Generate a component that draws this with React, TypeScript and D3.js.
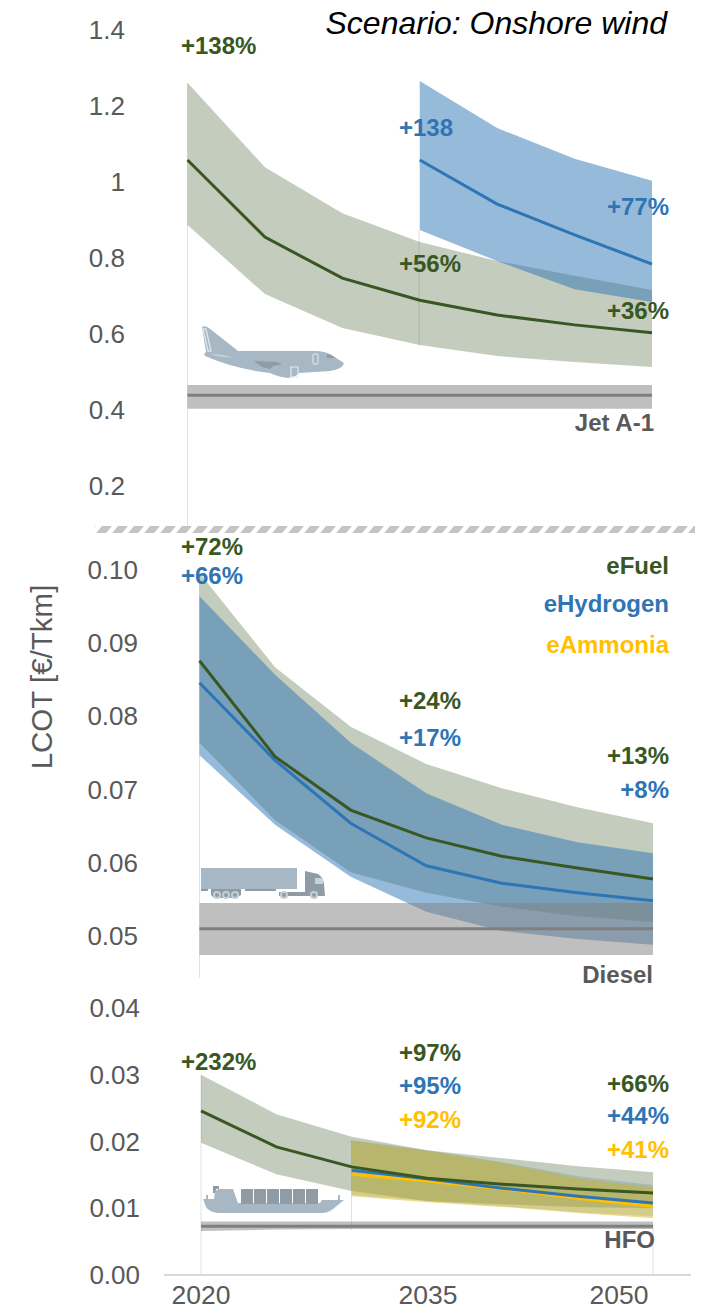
import React from 'react';
import * as d3 from 'd3';

const years = [2020, 2025, 2030, 2035, 2040, 2045, 2050];
const yearLabels = ['2020', '2035', '2050'];

// upper panel (jet)
const jetTicks = ['1.4', '1.2', '1', '0.8', '0.6', '0.4', '0.2'];
const jetFuelHigh = [1.261, 1.039, 0.918, 0.842, 0.792, 0.753, 0.716];
const jetFuelMid = [1.058, 0.855, 0.747, 0.689, 0.65, 0.624, 0.603];
const jetFuelLow = [0.887, 0.705, 0.616, 0.571, 0.542, 0.526, 0.513];
const jetH2High = [1.266, 1.142, 1.061, 1.003];
const jetH2Mid = [1.058, 0.942, 0.861, 0.784];
const jetH2Low = [0.874, 0.792, 0.718, 0.684];
const jetRefHigh = [0.466, 0.466, 0.466, 0.466, 0.466, 0.466, 0.466];
const jetRefMid = [0.439, 0.439, 0.439, 0.439, 0.439, 0.439, 0.439];
const jetRefLow = [0.403, 0.403, 0.403, 0.403, 0.403, 0.403, 0.403];

// middle panel (truck)
const truckTicks = ['0.10', '0.09', '0.08', '0.07', '0.06', '0.05'];
const truckFuelHigh = [0.0996, 0.0867, 0.0786, 0.0735, 0.0702, 0.0676, 0.0654];
const truckFuelMid = [0.0876, 0.0745, 0.0672, 0.0634, 0.0609, 0.0593, 0.0578];
const truckFuelLow = [0.0764, 0.0658, 0.0587, 0.0559, 0.054, 0.0527, 0.0519];
const truckH2High = [0.0964, 0.0857, 0.0764, 0.0695, 0.0652, 0.0628, 0.0613];
const truckH2Mid = [0.0846, 0.074, 0.0654, 0.0596, 0.0572, 0.0559, 0.0548];
const truckH2Low = [0.0747, 0.0652, 0.0581, 0.0533, 0.0507, 0.0496, 0.0488];
const truckRefHigh = [0.0545, 0.0545, 0.0545, 0.0545, 0.0545, 0.0545, 0.0545];
const truckRefMid = [0.051, 0.051, 0.051, 0.051, 0.051, 0.051, 0.051];
const truckRefLow = [0.0474, 0.0474, 0.0474, 0.0474, 0.0474, 0.0474, 0.0474];

// lower panel (ship)
const shipTicks = ['0.04', '0.03', '0.02', '0.01', '0.00'];
const shipFuelHigh = [0.03, 0.0241, 0.0207, 0.0187, 0.0175, 0.0163, 0.0154];
const shipFuelMid = [0.0246, 0.0192, 0.0162, 0.0145, 0.0136, 0.0129, 0.0123];
const shipFuelLow = [0.0198, 0.0151, 0.0126, 0.0111, 0.0106, 0.0102, 0.01];
const shipH2High = [0.0202, 0.0187, 0.0169, 0.0148, 0.0135];
const shipH2Mid = [0.0157, 0.0144, 0.013, 0.0118, 0.0108];
const shipH2Low = [0.012, 0.0111, 0.0103, 0.0094, 0.0088];
const shipNh3High = [0.0201, 0.0186, 0.0168, 0.0145, 0.0132];
const shipNh3Mid = [0.0151, 0.0141, 0.0129, 0.0115, 0.0103];
const shipNh3Low = [0.0118, 0.0109, 0.0102, 0.0093, 0.0085];
const shipRefHigh = [0.008, 0.008, 0.008, 0.008, 0.008, 0.008, 0.008];
const shipRefMid = [0.0073, 0.0073, 0.0073, 0.0073, 0.0073, 0.0073, 0.0073];
const shipRefLow = [0.0066, 0.0068, 0.0069, 0.0069, 0.0069, 0.0069, 0.0069];

const GREEN = '#385723';
const BLUE = '#2e75b6';
const YELLOW = '#ffc000';
const GREY = '#7f7f7f';
const TEXT = '#595959';
const ICON = '#a7b8c4';
const ICON_DARK = '#8f9ba5';
const FONT = '"Liberation Sans", Arial, sans-serif';

const jetY = d3.scaleLinear().domain([0.2, 1.4]).range([486, 30]);
const truckY = d3.scaleLinear().domain([0.05, 0.1]).range([936, 570]);
const shipY = d3.scaleLinear().domain([0, 0.04]).range([1275, 1008]);
const jetX = d3.scalePoint<number>().domain(years).range([187.5, 652]);
const truckX = d3.scalePoint<number>().domain(years).range([199.5, 653]);
const shipX = d3.scalePoint<number>().domain(years).range([201, 653]);

type Sc = (v: any) => any;

const bandPath = (x: Sc, y: Sc, yrs: number[], hi: number[], lo: number[]) =>
  d3.area<number>()
    .x(d => x(d))
    .y1((d, i) => y(hi[i]))
    .y0((d, i) => y(lo[i]))(yrs) as string;

const linePath = (x: Sc, y: Sc, yrs: number[], vals: number[]) =>
  d3.line<number>()
    .x(d => x(d))
    .y((d, i) => y(vals[i]))(yrs) as string;

const Note = ({ x, y, color, anchor, size, children }: any) => (
  <text x={x} y={y} fill={color} fontSize={size || 24} fontWeight="bold" textAnchor={anchor || 'start'} dominantBaseline="central">
    {children}
  </text>
);

const Plane = () => (
  <g>
    <path fill={ICON} d="M202,327 Q205,325 209,328 L238,351 L318,351 Q328,352 333,356 L344,363 Q343,369 330,371 L299,373 Q296,377 288,378 Q278,377 270,373 Q235,369 205,356 Q203,354 206,352 Z" />
    <path fill="none" stroke="#dfe6ea" strokeWidth="1.3" d="M203,329 L208,351 L211,351 L206,329 Z" />
    <path fill="#c3d0d8" d="M211,354 Q222,354 232,357 Q220,358 211,354 Z" />
    <path fill={ICON_DARK} d="M254,361 L277,362 L282,364 L273,366 L270,369 L262,367 Z" />
    <rect x="313" y="354" width="5" height="10" rx="1" fill="none" stroke="#e4eaee" strokeWidth="1" />
    <path fill={ICON_DARK} d="M327,354 L333,356 L335,358 L327,358 Z" />
    <path fill="none" stroke="#e4eaee" strokeWidth="1.2" d="M291,367 L298,367 L298,377 L291,377 Z" />
  </g>
);

const Truck = () => (
  <g>
    <rect x="201" y="868" width="96" height="21" fill={ICON} />
    <rect x="201" y="889" width="7" height="2" fill={ICON_DARK} />
    <rect x="245" y="889" width="31" height="2" fill={ICON_DARK} />
    <path fill={ICON_DARK} d="M211,889 L241,889 L241,895 L236,898 L214,898 L211,895 Z" />
    <path fill={ICON_DARK} d="M279,892 L305,892 L305,871 L318,874 Q323,877 324,884 L325,896 L279,896 Z" />
    <rect x="315" y="878" width="8" height="6" fill="#c6d2da" />
    {[217, 226, 235, 284, 314].map(cx => (
      <g key={cx}>
        <circle cx={cx} cy={895} r={4} fill="#c3d0d8" />
        <circle cx={cx} cy={895} r={2} fill={ICON_DARK} />
      </g>
    ))}
  </g>
);

const Ship = () => (
  <g>
    <path fill={ICON_DARK} d="M213,1186 L219,1186 L219,1189 L216,1189 L216,1193 L213,1193 Z" />
    <path fill={ICON} d="M203,1199 L206,1199 L206,1195 L208,1195 L208,1199 L214,1199 L215,1191 L219,1189 L233,1189 L238,1203 L320,1203 L322,1200 L338,1200 L338,1195 L340,1195 L340,1200 L344,1200 L333,1209 Q328,1213 322,1213 L218,1213 Q209,1212 206,1207 Z" />
    {d3.range(6).map(i => (
      <rect key={i} x={241 + i * 13} y={1189} width={12} height={15} fill={ICON_DARK} />
    ))}
  </g>
);

const App = () => {
  const tick = (label: string, y: number, right: number) => (
    <text key={label} x={right} y={y} fontSize={26} fill={TEXT} textAnchor="end" dominantBaseline="central">
      {label}
    </text>
  );
  const thin = { stroke: '#e2e2e2', strokeWidth: 1 };
  const h2Years = years.slice(3);
  const shipYears = years.slice(2);

  return (
    <svg width={707} height={1310} style={{ position: 'absolute', left: 0, top: 0, display: 'block', background: '#fff' }} fontFamily={FONT}>
      <defs>
        <pattern id="brk" patternUnits="userSpaceOnUse" width={16} height={8} y={526}>
          <polygon points="6,0 16,0 10,7 0,7" fill="#c4c4c4" />
        </pattern>
        <filter id="soft"><feGaussianBlur stdDeviation="0.7" /></filter>
      </defs>

      {/* y axis labels */}
      {jetTicks.map(t => tick(t, jetY(+t), 125))}
      {truckTicks.map(t => tick(t, truckY(+t), 138))}
      {shipTicks.map(t => tick(t, shipY(+t), 140))}
      <text transform="translate(52,677) rotate(-90)" fontSize={29.5} fill={TEXT} textAnchor="middle">LCOT [€/Tkm]</text>

      {/* thin guide lines */}
      <line x1={187.5} x2={187.5} y1={83} y2={527} {...thin} />
      <line x1={419} x2={419} y1={230} y2={345} stroke="#b0bdb0" strokeWidth={0.5} />
      <line x1={199.5} x2={199.5} y1={575} y2={978} {...thin} />
      <line x1={201} x2={201} y1={1075} y2={1275} {...thin} />
      <line x1={351.5} x2={351.5} y1={1140} y2={1230} {...thin} />
      <line x1={653} x2={653} y1={1225} y2={1275} {...thin} />

      {/* jet */}
      <path d={bandPath(jetX, jetY, years, jetFuelHigh, jetFuelLow)} fill={GREEN} fillOpacity={0.3} />
      <path d={bandPath(jetX, jetY, h2Years, jetH2High, jetH2Low)} fill={BLUE} fillOpacity={0.5} />
      <path d={linePath(jetX, jetY, years, jetFuelMid)} fill="none" stroke={GREEN} strokeWidth={3} />
      <path d={linePath(jetX, jetY, h2Years, jetH2Mid)} fill="none" stroke={BLUE} strokeWidth={3} />
      <path d={bandPath(jetX, jetY, years, jetRefHigh, jetRefLow)} fill={GREY} fillOpacity={0.5} />
      <path d={linePath(jetX, jetY, years, jetRefMid)} fill="none" stroke={GREY} strokeWidth={3} />
      <Plane />

      {/* truck */}
      <path d={bandPath(truckX, truckY, years, truckFuelHigh, truckFuelLow)} fill={GREEN} fillOpacity={0.3} />
      <path d={bandPath(truckX, truckY, years, truckH2High, truckH2Low)} fill={BLUE} fillOpacity={0.5} />
      <path d={linePath(truckX, truckY, years, truckH2Mid)} fill="none" stroke={BLUE} strokeWidth={3} />
      <path d={linePath(truckX, truckY, years, truckFuelMid)} fill="none" stroke={GREEN} strokeWidth={3} />
      <path d={bandPath(truckX, truckY, years, truckRefHigh, truckRefLow)} fill={GREY} fillOpacity={0.5} />
      <path d={linePath(truckX, truckY, years, truckRefMid)} fill="none" stroke={GREY} strokeWidth={3} />
      <Truck />

      {/* ship */}
      <path d={bandPath(shipX, shipY, years, shipFuelHigh, shipFuelLow)} fill={GREEN} fillOpacity={0.3} />
      <path d={bandPath(shipX, shipY, shipYears, shipH2High, shipH2Low)} fill={BLUE} fillOpacity={0.2} />
      <path d={bandPath(shipX, shipY, shipYears, shipNh3High, shipNh3Low)} fill="#d2af0a" fillOpacity={0.44} />
      <path d={linePath(shipX, shipY, shipYears, shipNh3Mid)} fill="none" stroke={YELLOW} strokeWidth={3} />
      <path d={linePath(shipX, shipY, shipYears, shipH2Mid)} fill="none" stroke={BLUE} strokeWidth={3} />
      <path d={linePath(shipX, shipY, years, shipFuelMid)} fill="none" stroke={GREEN} strokeWidth={3} />
      <path d={bandPath(shipX, shipY, years, shipRefHigh, shipRefLow)} fill={GREY} fillOpacity={0.5} />
      <path d={linePath(shipX, shipY, years, shipRefMid)} fill="none" stroke={GREY} strokeWidth={3} />
      <Ship />

      {/* axis break */}
      <rect x={95} y={526} width={600} height={7} fill="url(#brk)" filter="url(#soft)" />

      {/* x axis */}
      <line x1={164} x2={691} y1={1275} y2={1275} stroke="#d9d9d9" strokeWidth={2} />
      {yearLabels.map((l, i) => (
        <text key={l} x={[201, 428, 619][i]} y={1304.3} fontSize={26.5} fill={TEXT} textAnchor="middle">{l}</text>
      ))}

      {/* title */}
      <text x={667} y={23} fontSize={32} fontStyle="italic" fill="#000" textAnchor="end" dominantBaseline="central">Scenario: Onshore wind</text>

      {/* annotations */}
      <Note x={181} y={45} color={GREEN}>+138%</Note>
      <Note x={399} y={127} color={BLUE}>+138</Note>
      <Note x={607} y={206} color={BLUE}>+77%</Note>
      <Note x={399} y={263} color={GREEN}>+56%</Note>
      <Note x={607} y={310} color={GREEN}>+36%</Note>
      <Note x={654} y={422} color={TEXT} anchor="end">Jet A-1</Note>

      <Note x={181} y={546} color={GREEN}>+72%</Note>
      <Note x={181} y={575} color={BLUE}>+66%</Note>
      <Note x={669} y={565} color={GREEN} anchor="end">eFuel</Note>
      <Note x={669} y={603} color={BLUE} anchor="end">eHydrogen</Note>
      <Note x={669} y={644} color={YELLOW} anchor="end">eAmmonia</Note>
      <Note x={399} y={700} color={GREEN}>+24%</Note>
      <Note x={399} y={737} color={BLUE}>+17%</Note>
      <Note x={607} y={755} color={GREEN}>+13%</Note>
      <Note x={669} y={789} color={BLUE} anchor="end">+8%</Note>
      <Note x={653} y={974} color={TEXT} anchor="end">Diesel</Note>

      <Note x={181} y={1061} color={GREEN}>+232%</Note>
      <Note x={399} y={1052} color={GREEN}>+97%</Note>
      <Note x={399} y={1085} color={BLUE}>+95%</Note>
      <Note x={399} y={1119} color={YELLOW}>+92%</Note>
      <Note x={607} y={1083} color={GREEN}>+66%</Note>
      <Note x={607} y={1115} color={BLUE}>+44%</Note>
      <Note x={607} y={1149} color={YELLOW}>+41%</Note>
      <Note x={655} y={1239} color={TEXT} anchor="end">HFO</Note>
    </svg>
  );
};

export default App;
